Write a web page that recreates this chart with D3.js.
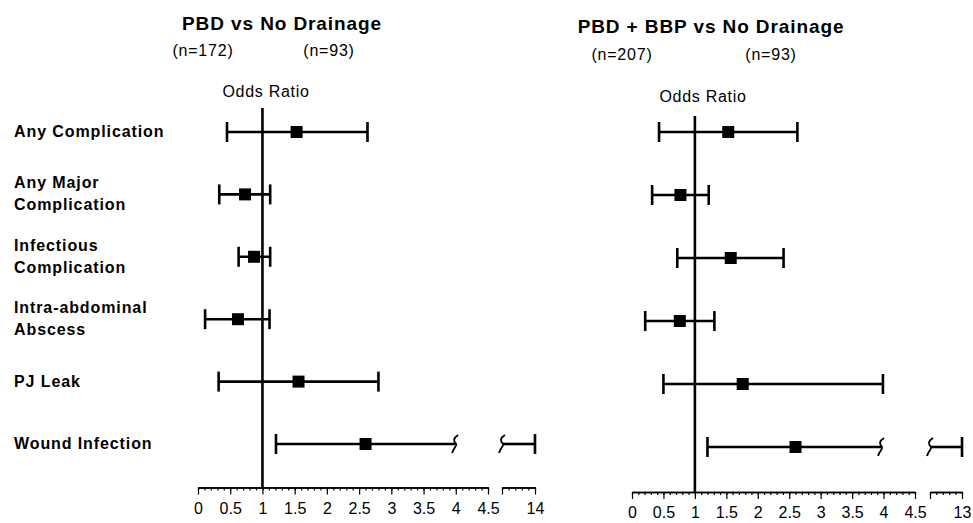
<!DOCTYPE html>
<html><head><meta charset="utf-8">
<script src="https://cdn.jsdelivr.net/npm/d3@7"></script>
<style>
body{margin:0;background:#fff;}
svg{display:block;font-family:"Liberation Sans",Arial,Helvetica,sans-serif;}
</style>
</head><body>
<svg id="chart" width="973" height="523"></svg>
<script>
// ---------- data ----------
const outcomes = ["Any Complication","Any Major Complication","Infectious Complication","Intra-abdominal Abscess","PJ Leak","Wound Infection"];
const outcomeLines = [["Any Complication"],["Any Major","Complication"],["Infectious","Complication"],["Intra-abdominal","Abscess"],["PJ Leak"],["Wound Infection"]];
const panelTitles = ["PBD vs No Drainage","PBD + BBP vs No Drainage"];
const groupLabels = [["(n=172)","(n=93)"],["(n=207)","(n=93)"]];
const axisTitle = "Odds Ratio";

const orPBD   = [1.53, 0.73, 0.87, 0.62, 1.56, 2.60];
const lowPBD  = [0.45, 0.33, 0.63, 0.11, 0.32, 1.21];
const highPBD = [2.63, 1.12, 1.12, 1.11, 2.80, 14];

const orBBP   = [1.53, 0.77, 1.57, 0.76, 1.76, 2.60];
const lowBBP  = [0.43, 0.32, 0.72, 0.21, 0.50, 1.20];
const highBBP = [2.63, 1.22, 2.41, 1.31, 3.99, 13];

const mainTickLabels = [0,0.5,1,1.5,2,2.5,3,3.5,4,4.5];
const breakDomains = [[13.5,14],[12.5,13]];
const breakTickLabels = [[14],[13]];
const breakAt = [3.99, 3.96];   // value where the axis is broken on the wound-infection bar

// ---------- layout ----------
const panels = [
  {or: orPBD, low: lowPBD, high: highPBD, x0: 198, x1: 488, bx0: 502, bx1: 535,
   yTop: 132, yBot: 444, axisY: 487.5, refTop: 108,
   title: {x: 282, y: 30}, n: [{x: 203, y: 56}, {x: 329, y: 56}], ot: {x: 266, y: 97}},
  {or: orBBP, low: lowBBP, high: highBBP, x0: 632, x1: 915, bx0: 930, bx1: 962,
   yTop: 132, yBot: 447, axisY: 492, refTop: 116,
   title: {x: 711, y: 33}, n: [{x: 622, y: 60}, {x: 771, y: 60}], ot: {x: 703, y: 102}}
];

const svg = d3.select("#chart");

// Row labels
const yL = d3.scalePoint().domain(outcomes).range([panels[0].yTop, panels[0].yBot]);
const lab = svg.append("g");
outcomes.forEach((o, i) => {
  const lines = outcomeLines[i];
  const y = yL(o);
  const t = lab.append("text").attr("x", 14)
    .attr("font-size", 16).attr("font-weight", "bold").attr("letter-spacing", "0.9px").attr("fill", "#000");
  if (lines.length === 1) {
    t.append("tspan").attr("x", 14).attr("y", y + 5).text(lines[0]);
  } else {
    t.append("tspan").attr("x", 14).attr("y", y - 6).text(lines[0]);
    t.append("tspan").attr("x", 14).attr("y", y + 16).text(lines[1]);
  }
});

function squiggle(x, y) {
  return `M${x+3},${y-9} C${x-2},${y-6} ${x-2},${y-3} ${x+1},${y} C${x+2},${y+2} ${x-1},${y+3} ${x-3},${y+9}`;
}

panels.forEach((p, pi) => {
  const g = svg.append("g");
  const x = d3.scaleLinear().domain([0, 4.5]).range([p.x0, p.x1]);
  const xb = d3.scaleLinear().domain(breakDomains[pi]).range([p.bx0, p.bx1]);
  const y = d3.scalePoint().domain(outcomes).range([p.yTop, p.yBot]);

  // Titles
  g.append("text").attr("x", p.title.x).attr("y", p.title.y).attr("text-anchor", "middle")
    .attr("font-size", 19).attr("font-weight", "bold").attr("letter-spacing", "0.9px").text(panelTitles[pi]);
  groupLabels[pi].forEach((t, k) => {
    g.append("text").attr("x", p.n[k].x).attr("y", p.n[k].y).attr("text-anchor", "middle")
      .attr("font-size", 16).attr("letter-spacing", "0.8px").text(t);
  });
  g.append("text").attr("x", p.ot.x).attr("y", p.ot.y).attr("text-anchor", "middle")
    .attr("font-size", 16).attr("letter-spacing", "0.7px").text(axisTitle);

  // Axes
  const minor = d3.axisBottom(x).tickValues(d3.range(0, 46).map(d => d / 10)).tickSize(3).tickSizeOuter(0).tickFormat("");
  const major = d3.axisBottom(x).tickValues(mainTickLabels).tickSize(7).tickSizeOuter(0).tickPadding(8)
    .tickFormat(d => String(d));
  const bd = breakDomains[pi];
  const bminor = d3.axisBottom(xb).tickValues(d3.range(0, 6).map(d => bd[0] + d / 10)).tickSize(3).tickSizeOuter(0).tickFormat("");
  const bmajor = d3.axisBottom(xb).tickValues([bd[0]].concat(breakTickLabels[pi])).tickSize(7).tickSizeOuter(0).tickPadding(8)
    .tickFormat(d => breakTickLabels[pi].includes(d) ? String(d) : "");
  [minor, major, bminor, bmajor].forEach(ax => {
    const a = g.append("g").attr("transform", `translate(0,${p.axisY})`).call(ax);
    a.select(".domain").attr("stroke", "#000").attr("stroke-width", 1.6);
    a.selectAll(".tick line").attr("stroke", "#000").attr("stroke-width", 1.2);
    a.selectAll(".tick text").attr("fill", "#000").attr("font-size", 16).attr("font-family", "'Liberation Sans',Arial,sans-serif");
  });

  // Reference line at OR = 1
  g.append("line").attr("x1", x(1)).attr("x2", x(1)).attr("y1", p.refTop).attr("y2", p.axisY)
    .attr("stroke", "#000").attr("stroke-width", 2.6);

  // Error bars
  outcomes.forEach((o, i) => {
    const yy = y(o);
    const lo = x(p.low[i]);
    const broken = p.high[i] > 4.5;
    const hiMain = broken ? x(breakAt[pi]) : x(p.high[i]);
    g.append("line").attr("x1", lo).attr("x2", hiMain).attr("y1", yy).attr("y2", yy)
      .attr("stroke", "#000").attr("stroke-width", 2.6);
    g.append("line").attr("x1", lo).attr("x2", lo).attr("y1", yy - 10).attr("y2", yy + 10)
      .attr("stroke", "#000").attr("stroke-width", 2.6);
    if (broken) {
      g.append("path").attr("d", squiggle(hiMain, yy)).attr("fill", "none").attr("stroke", "#000").attr("stroke-width", 1.8);
      const s = xb(bd[0]);
      const e = xb(p.high[i]);
      g.append("path").attr("d", squiggle(s, yy)).attr("fill", "none").attr("stroke", "#000").attr("stroke-width", 1.8);
      g.append("line").attr("x1", s + 1).attr("x2", e).attr("y1", yy).attr("y2", yy)
        .attr("stroke", "#000").attr("stroke-width", 2.6);
      g.append("line").attr("x1", e).attr("x2", e).attr("y1", yy - 10).attr("y2", yy + 10)
        .attr("stroke", "#000").attr("stroke-width", 2.6);
    } else {
      g.append("line").attr("x1", hiMain).attr("x2", hiMain).attr("y1", yy - 10).attr("y2", yy + 10)
        .attr("stroke", "#000").attr("stroke-width", 2.6);
    }
    g.append("rect").attr("x", x(p.or[i]) - 6).attr("y", yy - 6).attr("width", 12).attr("height", 12).attr("fill", "#000");
  });
});
</script>
</body></html>
